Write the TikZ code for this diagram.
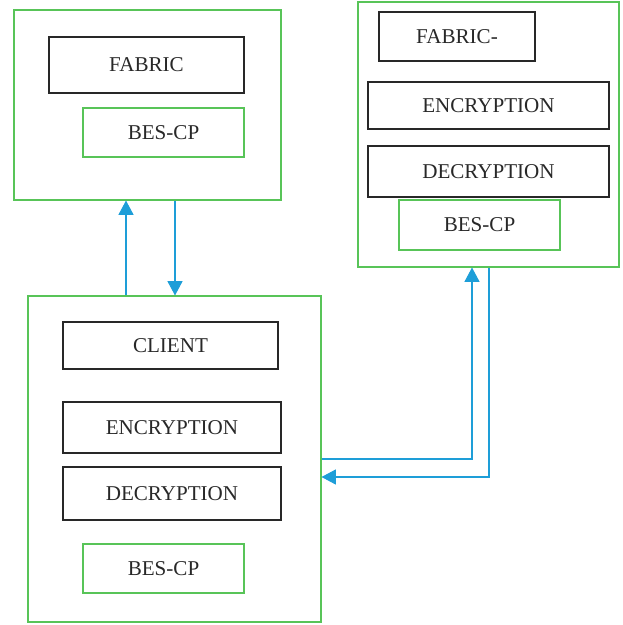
\documentclass[tikz,border=0pt]{standalone}
\usepackage{fontspec}
\setmainfont{Liberation Serif}
\usepackage{tikz}
\usepackage{xcolor}
\usetikzlibrary{arrows.meta}
\usetikzlibrary{calc}

\definecolor{boxgreen}{RGB}{88,196,88}
\definecolor{flowblue}{RGB}{30,158,216}
\definecolor{boxgray}{RGB}{40,40,40}

\begin{document}
\begin{tikzpicture}[>={Triangle[length=8.2pt,width=8.6pt]},
  txt/.style={font=\fontsize{12}{14}\selectfont, text=boxgray, inner sep=0pt},
  blk/.style={txt, draw=boxgray, line width=0.6pt},
  grn/.style={txt, draw=boxgreen, line width=0.6pt},
  flow/.style={draw=flowblue, line width=0.6pt}]
\useasboundingbox (0,0) rectangle (12.44,-12.5);

%Fabric
\node[grn, minimum width=5.34cm, minimum height=3.80cm] (fabric) at (2.95,-2.10) {};
\node[blk, minimum width=3.90cm, minimum height=1.12cm] (fabrictxt) at (2.93,-1.30) {FABRIC};
\node[grn, minimum width=3.22cm, minimum height=0.98cm] (fabricbes) at (3.27,-2.65) {BES-CP};

%Fabric- (remote side)
\node[grn, minimum width=5.22cm, minimum height=5.30cm] (remote) at (9.77,-2.69) {};
\node[blk, minimum width=3.12cm, minimum height=0.98cm] (remotetxt) at (9.14,-0.73) {FABRIC-};
\node[blk, minimum width=4.82cm, minimum height=0.94cm] (remoteenc) at (9.77,-2.11) {ENCRYPTION};
\node[blk, minimum width=4.82cm, minimum height=1.02cm] (remotedec) at (9.77,-3.43) {DECRYPTION};
\node[grn, minimum width=3.22cm, minimum height=1.00cm] (remotebes) at (9.59,-4.50) {BES-CP};

%Client
\node[grn, minimum width=5.86cm, minimum height=6.52cm] (client) at (3.49,-9.18) {};
\node[blk, minimum width=4.30cm, minimum height=0.94cm] (clienttxt) at (3.41,-6.91) {CLIENT};
\node[blk, minimum width=4.36cm, minimum height=1.02cm] (clientenc) at (3.44,-8.55) {ENCRYPTION};
\node[blk, minimum width=4.36cm, minimum height=1.06cm] (clientdec) at (3.44,-9.87) {DECRYPTION};
\node[grn, minimum width=3.22cm, minimum height=0.98cm] (clientbes) at (3.27,-11.37) {BES-CP};

%links
\coordinate (up) at (2.52,0);
\coordinate (dn) at (3.50,0);
\coordinate (ru) at (9.44,0);
\coordinate (rd) at (9.78,0);
\coordinate (low) at (0,-9.54);

\draw[flow,->] (up |- client.north) -- (up |- fabric.south);
\draw[flow,->] (dn |- fabric.south) -- (dn |- client.north);
\draw[flow,->] (client.east) -| (ru |- remote.south);
\draw[flow,->] (rd |- remote.south) |- (client.east |- low);
\end{tikzpicture}
\end{document}
